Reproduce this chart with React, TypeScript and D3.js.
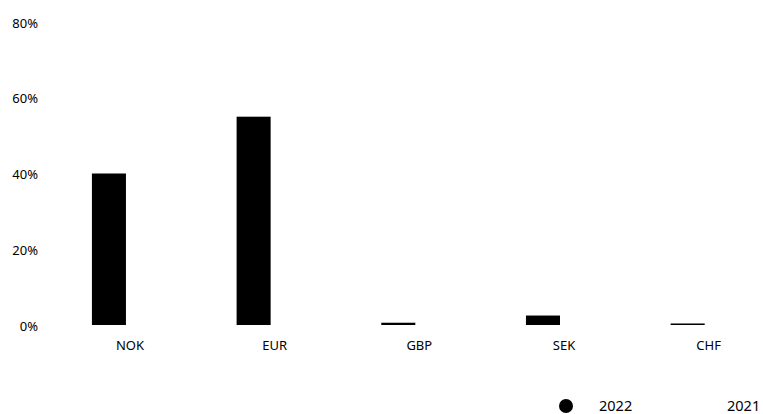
import * as React from 'react';
import * as d3 from 'd3';

const categories = ['NOK', 'EUR', 'GBP', 'SEK', 'CHF'];
const years = ['2022', '2021'];
const values2022 = [40, 55, 0.6, 2.5, 0.4];
const yTicks = [0, 20, 40, 60, 80];
const seriesColors = {'2022': '#000000', '2021': '#ffffff'};

const W = 763;
const H = 414;
const FONT = '"Noto Sans", sans-serif';

const draw = (svgNode: SVGSVGElement) => {
	const svg = d3.select(svgNode);
	svg.selectAll('*').remove();

	const x0 = d3.scaleBand().domain(categories).range([57.6, 781]).padding(0);
	const x1 = d3.scaleBand().domain(years)
		.range([0, x0.bandwidth()])
		.paddingInner(0.19)
		.paddingOuter(0.817);
	const y = d3.scaleLinear().domain([0, 80]).range([325, 22]);

	// y labels (no axis line)
	svg.append('g')
		.selectAll('text')
		.data(yTicks)
		.enter().append('text')
		.attr('x', 38)
		.attr('y', d => y(d) + 1)
		.attr('dy', '0.35em')
		.attr('text-anchor', 'end')
		.style('font-family', FONT)
		.style('font-size', '13px')
		.attr('fill', '#000')
		.text(d => d + '%');

	// 2022 bars
	svg.append('g')
		.selectAll('rect')
		.data(categories)
		.enter().append('rect')
		.attr('x', d => x0(d) + x1('2022'))
		.attr('width', x1.bandwidth())
		.attr('y', (d, i) => y(values2022[i]))
		.attr('height', (d, i) => y(0) - y(values2022[i]))
		.attr('fill', seriesColors['2022']);

	// category labels
	svg.append('g')
		.selectAll('text')
		.data(categories)
		.enter().append('text')
		.attr('x', d => x0(d) + x0.bandwidth() / 2)
		.attr('y', 345)
		.attr('dy', '0.35em')
		.attr('text-anchor', 'middle')
		.style('font-family', FONT)
		.style('font-size', '13px')
		.attr('fill', '#000')
		.text(d => d);

	// legend
	const legend = svg.append('g');
	const legendX = [566, 694];
	years.forEach((yr, i) => {
		legend.append('circle')
			.attr('cx', legendX[i])
			.attr('cy', 406)
			.attr('r', 7)
			.attr('fill', seriesColors[yr]);
		legend.append('text')
			.attr('x', legendX[i] + 33)
			.attr('y', 406)
			.attr('dy', '0.35em')
			.style('font-family', FONT)
			.style('font-size', '14.5px')
			.attr('fill', '#000')
			.text(yr);
	});
};

const App = () => {
	const ref = React.useRef<SVGSVGElement>(null);
	React.useEffect(() => {
		document.body.style.margin = '0';
		if (ref.current) draw(ref.current);
	}, []);
	return (
		<svg ref={ref} width={W} height={H} style={{display: 'block', background: '#fff'}} />
	);
};

export default App;
